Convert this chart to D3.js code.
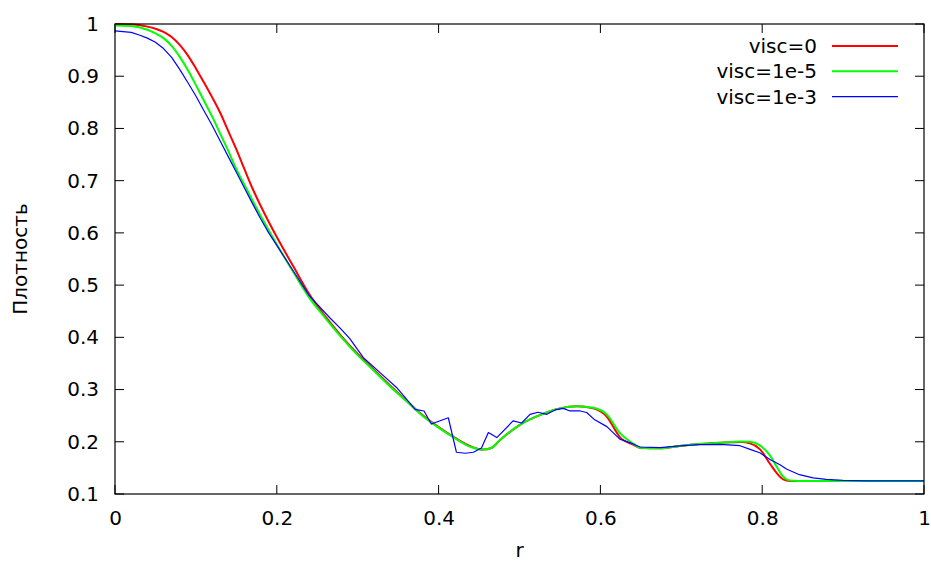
<!DOCTYPE html>
<html>
<head>
<meta charset="utf-8">
<script src="https://cdn.jsdelivr.net/npm/d3@7"></script>
<style>
  body { margin: 0; background: #fff; }
  svg { display: block; font-family: "DejaVu Sans", sans-serif; }
</style>
</head>
<body>
<div id="chart"></div>
<script>
// data
var xTicks = [0, 0.2, 0.4, 0.6, 0.8, 1];
var yTicks = [0.1, 0.2, 0.3, 0.4, 0.5, 0.6, 0.7, 0.8, 0.9, 1];

var rRed = [0, 0.02, 0.04, 0.05, 0.06, 0.07, 0.08, 0.09, 0.1, 0.11, 0.12, 0.13, 0.14, 0.15, 0.16, 0.17, 0.18, 0.2, 0.22, 0.24, 0.26, 0.28, 0.3, 0.32, 0.34, 0.36, 0.38, 0.4, 0.42, 0.44, 0.455, 0.465, 0.476, 0.50, 0.525, 0.55, 0.571, 0.591, 0.608, 0.624, 0.641, 0.649, 0.674, 0.698, 0.723, 0.748, 0.773, 0.785, 0.797, 0.81, 0.818, 0.826, 0.834, 0.9, 1.0];
var dRed = [1.0, 0.9993, 0.995, 0.991, 0.985, 0.975, 0.96, 0.94, 0.915, 0.888, 0.86, 0.83, 0.795, 0.76, 0.722, 0.685, 0.652, 0.592, 0.537, 0.483, 0.44, 0.402, 0.368, 0.338, 0.308, 0.279, 0.251, 0.228, 0.208, 0.191, 0.185, 0.188, 0.2034, 0.232, 0.251, 0.264, 0.268, 0.264, 0.248, 0.209, 0.194, 0.1885, 0.1875, 0.192, 0.1957, 0.198, 0.1996, 0.197, 0.186, 0.157, 0.14, 0.128, 0.125, 0.125, 0.125];

var rGreen = [0, 0.02, 0.04, 0.05, 0.06, 0.07, 0.08, 0.09, 0.1, 0.11, 0.12, 0.13, 0.14, 0.15, 0.16, 0.17, 0.18, 0.19, 0.2, 0.22, 0.24, 0.26, 0.28, 0.3, 0.32, 0.34, 0.36, 0.38, 0.4, 0.42, 0.44, 0.455, 0.465, 0.476, 0.50, 0.525, 0.55, 0.571, 0.591, 0.608, 0.624, 0.641, 0.649, 0.674, 0.698, 0.723, 0.748, 0.773, 0.785, 0.797, 0.81, 0.818, 0.826, 0.834, 0.845, 0.9, 1.0];
var dGreen = [0.997, 0.996, 0.989, 0.982, 0.973, 0.958, 0.937, 0.912, 0.883, 0.853, 0.823, 0.79, 0.757, 0.722, 0.692, 0.662, 0.633, 0.605, 0.578, 0.526, 0.476, 0.437, 0.400, 0.366, 0.336, 0.306, 0.278, 0.250, 0.227, 0.207, 0.190, 0.185, 0.188, 0.2034, 0.232, 0.251, 0.264, 0.268, 0.265, 0.252, 0.217, 0.196, 0.1885, 0.1875, 0.192, 0.1957, 0.198, 0.2006, 0.2, 0.193, 0.173, 0.152, 0.133, 0.1257, 0.125, 0.125, 0.125];

var rBlue = [0, 0.02, 0.03, 0.04, 0.05, 0.06, 0.07, 0.08, 0.09, 0.1, 0.11, 0.12, 0.13, 0.14, 0.15, 0.16, 0.17, 0.18, 0.19, 0.2, 0.22, 0.24, 0.2658, 0.278, 0.29, 0.307, 0.328, 0.348, 0.371, 0.382, 0.391, 0.412, 0.422, 0.433, 0.443, 0.453, 0.4615, 0.472, 0.492, 0.5027, 0.513, 0.523, 0.5336, 0.544, 0.554, 0.5624, 0.575, 0.583, 0.593, 0.608, 0.624, 0.637, 0.649, 0.674, 0.698, 0.723, 0.748, 0.7726, 0.785, 0.797, 0.8096, 0.822, 0.830, 0.846, 0.863, 0.879, 0.9, 0.93, 1.0];
var dBlue = [0.987, 0.984, 0.979, 0.973, 0.965, 0.953, 0.936, 0.913, 0.888, 0.862, 0.834, 0.806, 0.776, 0.746, 0.716, 0.686, 0.656, 0.627, 0.6, 0.576, 0.528, 0.48, 0.437, 0.418, 0.398, 0.361, 0.332, 0.304, 0.262, 0.259, 0.234, 0.246, 0.180, 0.178, 0.180, 0.188, 0.2177, 0.208, 0.240, 0.236, 0.2526, 0.2565, 0.2526, 0.261, 0.264, 0.259, 0.259, 0.256, 0.242, 0.229, 0.205, 0.198, 0.190, 0.1888, 0.192, 0.1945, 0.195, 0.1925, 0.1855, 0.179, 0.166, 0.156, 0.148, 0.137, 0.131, 0.128, 0.126, 0.125, 0.125];

var seriesNames = ["visc=0", "visc=1e-5", "visc=1e-3"];
var seriesColors = ["#ff0000", "#00ff00", "#0000ff"];

var W = 931, H = 563;
var margin = {top: 24, right: 7, bottom: 69, left: 115};
var width = W - margin.left - margin.right,
    height = H - margin.top - margin.bottom;

var svg = d3.select("#chart").append("svg")
    .attr("width", W)
    .attr("height", H);

var g = svg.append("g")
    .attr("transform", "translate(" + margin.left + "," + margin.top + ")");

var x = d3.scaleLinear().domain([0, 1]).range([0, width]);
var y = d3.scaleLinear().domain([0.1, 1]).range([height, 0]);

// ticks (gnuplot style, inward, mirrored)
var tickLen = 9;
var tk = g.append("g").attr("stroke", "#000").attr("stroke-width", 1);
xTicks.forEach(function(t) {
  tk.append("line").attr("x1", x(t)).attr("x2", x(t)).attr("y1", height).attr("y2", height - tickLen);
  tk.append("line").attr("x1", x(t)).attr("x2", x(t)).attr("y1", 0).attr("y2", tickLen);
});
yTicks.forEach(function(t) {
  tk.append("line").attr("x1", 0).attr("x2", tickLen).attr("y1", y(t)).attr("y2", y(t));
  tk.append("line").attr("x1", width).attr("x2", width - tickLen).attr("y1", y(t)).attr("y2", y(t));
});

// tick labels via axes, lines hidden
var xAxis = g.append("g")
    .attr("transform", "translate(0," + height + ")")
    .call(d3.axisBottom(x).tickValues(xTicks).tickSize(0).tickPadding(17).tickFormat(d3.format("")));
var yAxis = g.append("g")
    .call(d3.axisLeft(y).tickValues(yTicks).tickSize(0).tickPadding(16).tickFormat(d3.format("")));
[xAxis, yAxis].forEach(function(a) {
  a.select(".domain").remove();
  a.selectAll("text").attr("font-size", "20px").attr("fill", "#000")
    .attr("font-family", "DejaVu Sans, sans-serif");
});

// curves
var lines = [
  {r: rRed, d: dRed, w: 2},
  {r: rGreen, d: dGreen, w: 2},
  {r: rBlue, d: dBlue, w: 1.2}
];
var plot = g.append("g");
lines.forEach(function(s, i) {
  var pts = s.r.map(function(v, k) { return [v, s.d[k]]; });
  var line = d3.line()
    .x(function(p) { return x(p[0]); })
    .y(function(p) { return y(p[1]); })
    .curve(i < 2 ? d3.curveMonotoneX : d3.curveLinear);
  plot.append("path")
    .datum(pts)
    .attr("fill", "none")
    .attr("stroke", seriesColors[i])
    .attr("stroke-width", s.w)
    .attr("stroke-linejoin", "round")
    .attr("d", line);
});

// border
g.append("rect")
  .attr("x", 0).attr("y", 0)
  .attr("width", width).attr("height", height)
  .attr("fill", "none").attr("stroke", "#000").attr("stroke-width", 1.2);

// legend
var legend = g.selectAll(".legend")
  .data(seriesNames)
  .enter().append("g")
  .attr("class", "legend")
  .attr("transform", function(d, i) { return "translate(0," + (22 + i * 25.3) + ")"; });
legend.append("text")
  .attr("x", 702)
  .attr("dy", "0.35em")
  .attr("text-anchor", "end")
  .attr("font-size", "20px")
  .text(function(d) { return d; });
legend.append("line")
  .attr("x1", 717).attr("x2", 783)
  .attr("stroke", function(d, i) { return seriesColors[i]; })
  .attr("stroke-width", function(d, i) { return lines[i].w; });

// axis titles
svg.append("text")
  .attr("x", margin.left + x(0.5))
  .attr("y", 557)
  .attr("text-anchor", "middle")
  .attr("font-size", "20px")
  .text("r");
svg.append("text")
  .attr("transform", "translate(27," + (margin.top + height / 2) + ") rotate(-90)")
  .attr("text-anchor", "middle")
  .attr("font-size", "20px")
  .text("Плотность");
</script>
</body>
</html>
